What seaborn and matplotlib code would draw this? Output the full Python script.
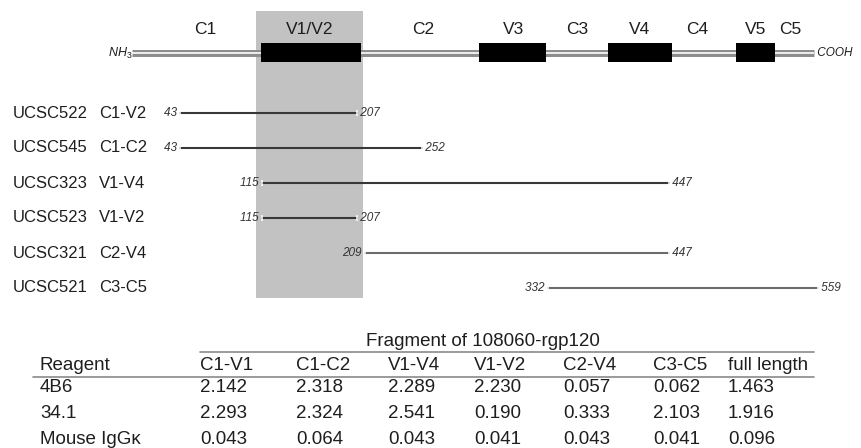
import numpy as np
import pandas as pd
import matplotlib
matplotlib.use("Agg")
import matplotlib.pyplot as plt
import seaborn as sns

# gp120 domains (residue ranges of the variable loops, black boxes)
loop_names = ["V1/V2", "V3", "V4", "V5"]
loop_start = [114, 288, 389, 497]
loop_end = [208, 331, 449, 527]
domain_labels = ["C1", "V1/V2", "C2", "V3", "C3", "V4", "C4", "V5", "C5"]
domain_label_res = [65, 161, 253, 310, 360, 419, 468, 512, 538]
chain_end = 556

# expressed fragments
clones = ["UCSC522", "UCSC545", "UCSC323", "UCSC523", "UCSC321", "UCSC521"]
frag_names = ["C1-V2", "C1-C2", "V1-V4", "V1-V2", "C2-V4", "C3-C5"]
frag_start = [43, 43, 115, 115, 209, 332]
frag_end = [207, 252, 447, 207, 447, 559]

# ELISA table
table_title = "Fragment of 108060-rgp120"
table_cols = ["C1-V1", "C1-C2", "V1-V4", "V1-V2", "C2-V4", "C3-C5", "full length"]
reagents = ["4B6", "34.1", "Mouse IgG\u03ba"]
vals_4b6 = ["2.142", "2.318", "2.289", "2.230", "0.057", "0.062", "1.463"]
vals_341 = ["2.293", "2.324", "2.541", "0.190", "0.333", "2.103", "1.916"]
vals_igg = ["0.043", "0.064", "0.043", "0.041", "0.043", "0.041", "0.096"]

# schematic (non-linear) residue -> horizontal position scale
anchor_res = [-115, 1, 43, 115, 207, 209, 252, 332, 447, 559, 592]
anchor_px = [0, 132, 180, 262, 357, 365, 422, 548, 669, 818, 862]


def fwd(r):
    return np.interp(r, anchor_res, anchor_px)


def inv(p):
    return np.interp(p, anchor_px, anchor_res)


sns.set_theme(style="white")
plt.rcParams["font.family"] = ["Liberation Sans", "DejaVu Sans"]
plt.rcParams["mathtext.fontset"] = "custom"
plt.rcParams["mathtext.it"] = "Liberation Sans:italic"
plt.rcParams["mathtext.rm"] = "Liberation Sans"

W, H = 862, 448
fig = plt.figure(figsize=(W / 100, H / 100), dpi=100)
fig.patch.set_facecolor("white")

# layout axes in pixel units (text, table)
lay = fig.add_axes([0, 0, 1, 1])
lay.set_xlim(0, W)
lay.set_ylim(H, 0)
lay.axis("off")

# diagram axes, x in residue numbers
ax = fig.add_axes([0, 0, 1, 1])
ax.patch.set_alpha(0)
ax.set_ylim(H, 0)

txt = "#1e1e1e"
bar_y = 53
row_y = 113 + 35 * np.arange(len(clones))

df = pd.DataFrame({
    "fragment": np.repeat(frag_names, 2),
    "residue": np.ravel(np.column_stack([frag_start, frag_end])),
    "y": np.repeat(row_y, 2),
})
line_cols = ["#383838"] * 4 + ["#6c6c6c"] * 2
sns.lineplot(data=df, x="residue", y="y", hue="fragment", units="fragment",
             estimator=None, sort=False, palette=line_cols, legend=False,
             lw=1.5, marker="|", ms=5, mew=1.1, ax=ax, zorder=3)

ax.set_xscale("function", functions=(fwd, inv))
ax.set_xlim(inv(0), inv(W))
ax.set_ylim(H, 0)
ax.axis("off")

# highlighted V1/V2 region
ax.axvspan(110, 208.6, ymin=1 - 298 / H, ymax=1 - 11 / H,
           color="#c2c2c2", lw=0, zorder=0)

# protein chain: double line
ax.plot([1, chain_end], [bar_y, bar_y], color="#8c8c8c", lw=5.0,
        solid_capstyle="butt", zorder=1)
ax.plot([1, chain_end], [bar_y, bar_y], color="white", lw=1.2,
        solid_capstyle="butt", zorder=1.5)
for s, e in zip(loop_start, loop_end):
    ax.fill_between([s, e], bar_y - 9.5, bar_y + 9.5, color="black",
                    lw=0, zorder=2)

for lab, r in zip(domain_labels, domain_label_res):
    ax.text(r, 30, lab, ha="center", va="center", fontsize=12.5, color=txt)
ax.text(1, bar_y, r"$NH_3$", ha="right", va="center", fontsize=9,
        color=txt, transform=ax.transData)
ax.text(chain_end, bar_y, " COOH", ha="left", va="center", fontsize=8.5,
        style="italic", color=txt)

for i, y in enumerate(row_y):
    lay.text(13, y, clones[i], ha="left", va="center", fontsize=12, color=txt)
    lay.text(99, y, frag_names[i], ha="left", va="center", fontsize=12,
             color=txt)
    ax.text(frag_start[i], y, f"{frag_start[i]} ", ha="right", va="center",
            fontsize=8.5, style="italic", color="#333333")
    ax.text(frag_end[i], y, f" {frag_end[i]}", ha="left", va="center",
            fontsize=8.5, style="italic", color="#333333")

# table
fs = 13.5
col_x = [200, 296, 388, 474, 563, 653, 728]
lay.text(483, 341, table_title, ha="center", va="center", fontsize=fs,
         color=txt)
lay.plot([200, 814], [352, 352], color="#8a8a8a", lw=1.2)
lay.plot([33, 814], [377, 377], color="#8a8a8a", lw=1.2)
lay.text(40, 365, "Reagent", ha="left", va="center", fontsize=fs, color=txt)
for x, c in zip(col_x, table_cols):
    lay.text(x, 365, c, ha="left", va="center", fontsize=fs, color=txt)
for ry, name, vals in zip([388, 414, 439], reagents,
                          [vals_4b6, vals_341, vals_igg]):
    lay.text(40, ry, name, ha="left", va="center", fontsize=fs, color=txt)
    for x, v in zip(col_x, vals):
        lay.text(x, ry, v, ha="left", va="center", fontsize=fs, color=txt)

fig.savefig("out.png", dpi=100, facecolor="white")
